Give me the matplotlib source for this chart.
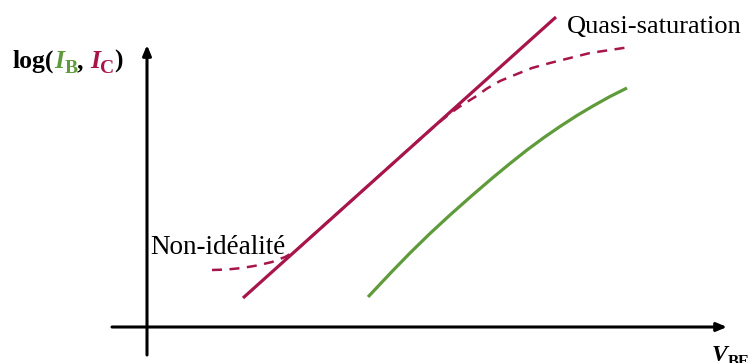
import numpy as np
import matplotlib
matplotlib.use("Agg")
import matplotlib.pyplot as plt

# Sketch of log(IB, IC) vs VBE (arbitrary units, origin at axis crossing)
ic_ideal_x = [0.96, 4.09]
ic_ideal_y = [0.29, 3.10]

ic_real_x = [0.65, 0.80, 0.95, 1.10, 1.25, 1.38, 1.48, 2.00, 2.60, 2.85, 2.95, 3.05,
             3.15, 3.28, 3.40, 3.53, 3.70, 3.85, 4.03, 4.23, 4.43, 4.63, 4.83]
ic_real_y = [0.57, 0.575, 0.59, 0.615, 0.65, 0.70, 0.757, 1.224, 1.763, 1.987, 2.07, 2.15,
             2.22, 2.30, 2.385, 2.46, 2.53, 2.59, 2.64, 2.69, 2.74, 2.77, 2.80]

ib_x = [2.21, 2.45, 2.63, 2.83, 3.03, 3.25, 3.46, 3.63, 3.80, 3.97, 4.13, 4.30,
        4.46, 4.63, 4.80]
ib_y = [0.30, 0.555, 0.74, 0.935, 1.12, 1.315, 1.495, 1.635, 1.77, 1.895, 2.005, 2.115,
        2.21, 2.305, 2.39]

RED = "#A8154B"
GREEN = "#5F9B3B"
SERIF = "Liberation Serif"

fig = plt.figure(figsize=(7.51, 3.63), dpi=100)
ax = fig.add_axes([0, 0, 1, 1])
ax.set_xlim(-1.47, 6.04)
ax.set_ylim(-0.36, 3.27)
ax.axis("off")

# axes arrows
arrow = dict(arrowstyle="-|>,head_length=0.6,head_width=0.25", lw=2.2, color="black",
             shrinkA=0, shrinkB=0)
ax.annotate("", xy=(0, 2.82), xytext=(0, -0.28), arrowprops=arrow)
ax.annotate("", xy=(5.80, 0), xytext=(-0.35, 0), arrowprops=arrow)

ax.plot(ic_ideal_x, ic_ideal_y, color=RED, lw=2.3, solid_capstyle="butt")
ax.plot(ic_real_x, ic_real_y, color=RED, lw=1.8, ls=(0, (4, 3)))
ax.plot(ib_x, ib_y, color=GREEN, lw=2.3, solid_capstyle="butt")

ax.text(0.03, 0.73, "Non-idéalité", fontsize=19.5, family=SERIF, va="baseline")
ax.text(4.20, 2.94, "Quasi-saturation", fontsize=19, family=SERIF, va="baseline")

# multicolour y label
pieces = [("log(", "black", "normal", 0), ("I", GREEN, "italic", 0), ("B", GREEN, "normal", 1),
          (", ", "black", "normal", 0), ("I", RED, "italic", 0), ("C", RED, "normal", 1),
          (")", "black", "normal", 0)]
x0, y0 = -1.34, 2.59
fig.canvas.draw()
r = fig.canvas.get_renderer()
inv = ax.transData.inverted()
for s, c, st, sub in pieces:
    fs = 14 if sub else 18.5
    yy = y0 - 0.05 if sub else y0
    t = ax.text(x0, yy, s, color=c, fontsize=fs, fontweight="bold", fontstyle=st,
                family=SERIF, va="baseline")
    bb = t.get_window_extent(r)
    x0 = inv.transform((bb.x1, bb.y0))[0]

# V_BE label
t = ax.text(5.65, -0.34, "V", fontsize=17, fontweight="bold", fontstyle="italic",
            family=SERIF, va="baseline")
bb = t.get_window_extent(r)
ax.text(inv.transform((bb.x1, 0))[0], -0.39, "BE", fontsize=12, fontweight="bold",
        family=SERIF, va="baseline")

fig.savefig("out.png", dpi=100)
